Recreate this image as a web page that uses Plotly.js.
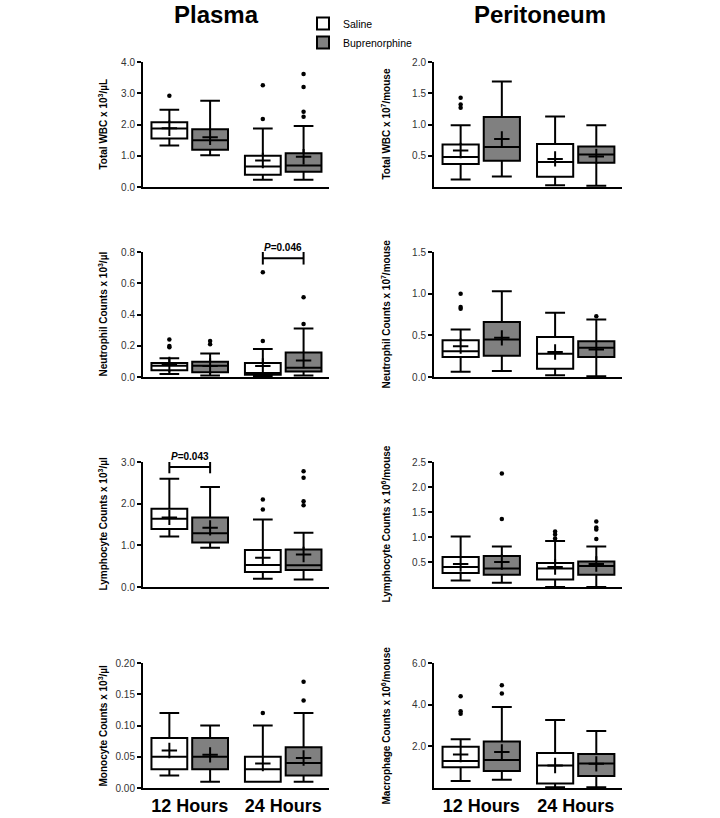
<!DOCTYPE html>
<html>
<head>
<meta charset="utf-8">
<script src="https://cdn.plot.ly/plotly-3.0.1.min.js"></script>
<style>
  body { margin: 0; background: #fff; }
  #plot { width: 720px; height: 818px; }
</style>
</head>
<body>
<div id="plot"></div>
<script>
// box summaries per time point: [low whisker, Q1, median, Q3, high whisker, mean]
var timeLabels = ['12 Hours', '24 Hours'];
var groupNames = ['Saline', 'Buprenorphine'];

// Total WBC, plasma
var plasmaWbcSaline = [[1.33, 1.55, 1.87, 2.07, 2.47, 1.88], [0.23, 0.39, 0.66, 1.00, 1.87, 0.85]];
var plasmaWbcBup = [[1.02, 1.19, 1.50, 1.85, 2.76, 1.59], [0.23, 0.49, 0.69, 1.08, 1.95, 0.97]];
var plasmaWbcSalineOut = [[2.92], [3.26, 2.18]];
var plasmaWbcBupOut = [[], [3.62, 3.20, 2.41, 2.25]];

// Total WBC, peritoneum
var periWbcSaline = [[0.12, 0.37, 0.48, 0.68, 0.99, 0.585], [0.03, 0.165, 0.40, 0.69, 1.13, 0.45]];
var periWbcBup = [[0.17, 0.42, 0.64, 1.12, 1.69, 0.77], [0.02, 0.39, 0.52, 0.65, 0.99, 0.49]];
var periWbcSalineOut = [[1.43, 1.32, 1.27], []];
var periWbcBupOut = [[], []];

// Neutrophils, plasma
var plasmaNeuSaline = [[0.02, 0.043, 0.072, 0.09, 0.12, 0.08], [0.005, 0.015, 0.025, 0.09, 0.18, 0.07]];
var plasmaNeuBup = [[0.01, 0.03, 0.072, 0.098, 0.15, 0.07], [0.01, 0.036, 0.06, 0.157, 0.31, 0.106]];
var plasmaNeuSalineOut = [[0.24, 0.198, 0.19], [0.67, 0.23]];
var plasmaNeuBupOut = [[0.23, 0.21], [0.51, 0.34]];

// Neutrophils, peritoneum
var periNeuSaline = [[0.064, 0.24, 0.31, 0.44, 0.57, 0.37], [0.02, 0.10, 0.28, 0.48, 0.77, 0.30]];
var periNeuBup = [[0.072, 0.256, 0.45, 0.66, 1.03, 0.47], [0.008, 0.24, 0.35, 0.43, 0.69, 0.33]];
var periNeuSalineOut = [[1.0, 0.84, 0.82], []];
var periNeuBupOut = [[], [0.73]];

// Lymphocytes, plasma
var plasmaLymSaline = [[1.21, 1.39, 1.64, 1.88, 2.60, 1.67], [0.20, 0.36, 0.53, 0.89, 1.62, 0.70]];
var plasmaLymBup = [[0.94, 1.07, 1.29, 1.67, 2.40, 1.42], [0.18, 0.41, 0.52, 0.90, 1.30, 0.78]];
var plasmaLymSalineOut = [[], [2.10, 1.86]];
var plasmaLymBupOut = [[], [2.78, 2.62, 2.06, 1.96]];

// Lymphocytes, peritoneum
var periLymSaline = [[0.13, 0.28, 0.40, 0.60, 1.01, 0.46], [0.0, 0.15, 0.37, 0.48, 0.92, 0.40]];
var periLymBup = [[0.086, 0.245, 0.37, 0.62, 0.81, 0.50], [0.0, 0.245, 0.42, 0.51, 0.81, 0.46]];
var periLymSalineOut = [[], [1.11, 1.05, 0.97]];
var periLymBupOut = [[2.27, 1.36], [1.31, 1.19, 1.15, 0.96]];

// Monocytes, plasma
var plasmaMonSaline = [[0.02, 0.03, 0.05, 0.08, 0.12, 0.06], [0.01, 0.01, 0.03, 0.05, 0.10, 0.039]];
var plasmaMonBup = [[0.01, 0.03, 0.05, 0.08, 0.10, 0.053], [0.01, 0.02, 0.04, 0.065, 0.12, 0.048]];
var plasmaMonSalineOut = [[], [0.12]];
var plasmaMonBupOut = [[], [0.17, 0.14]];

// Macrophages, peritoneum
var periMacSaline = [[0.34, 1.0, 1.29, 1.98, 2.34, 1.61], [0.03, 0.21, 1.08, 1.68, 3.26, 1.08]];
var periMacBup = [[0.39, 0.81, 1.34, 2.23, 3.89, 1.73], [0.03, 0.58, 1.18, 1.63, 2.74, 1.16]];
var periMacSalineOut = [[4.4, 3.68, 3.56], []];
var periMacBupOut = [[4.93, 4.53], []];

// y tick values
var plasmaWbcTicks = [0, 1, 2, 3, 4];
var periWbcTicks = [0.5, 1, 1.5, 2];
var plasmaNeuTicks = [0, 0.2, 0.4, 0.6, 0.8];
var periNeuTicks = [0, 0.5, 1, 1.5];
var plasmaLymTicks = [0, 1, 2, 3];
var periLymTicks = [0.5, 1, 1.5, 2, 2.5];
var plasmaMonTicks = [0, 0.05, 0.1, 0.15, 0.2];
var periMacTicks = [2, 4, 6];

// significance brackets: [time index, bracket height, label]
var neuBracket = [1, 0.76, '<i>P</i>=0.046'];
var lymBracket = [0, 2.88, '<i>P</i>=0.043'];

var panels = [
  {sal: plasmaWbcSaline, bup: plasmaWbcBup, salOut: plasmaWbcSalineOut, bupOut: plasmaWbcBupOut, ticks: plasmaWbcTicks, fmt: '.1f', title: 'Total WBC x 10<sup>3</sup>/µL'},
  {sal: periWbcSaline, bup: periWbcBup, salOut: periWbcSalineOut, bupOut: periWbcBupOut, ticks: periWbcTicks, fmt: '.1f', title: 'Total WBC x 10<sup>7</sup>/mouse'},
  {sal: plasmaNeuSaline, bup: plasmaNeuBup, salOut: plasmaNeuSalineOut, bupOut: plasmaNeuBupOut, ticks: plasmaNeuTicks, fmt: '.1f', title: 'Neutrophil Counts x 10<sup>3</sup>/µl', bracket: neuBracket},
  {sal: periNeuSaline, bup: periNeuBup, salOut: periNeuSalineOut, bupOut: periNeuBupOut, ticks: periNeuTicks, fmt: '.1f', title: 'Neutrophil Counts x 10<sup>7</sup>/mouse'},
  {sal: plasmaLymSaline, bup: plasmaLymBup, salOut: plasmaLymSalineOut, bupOut: plasmaLymBupOut, ticks: plasmaLymTicks, fmt: '.1f', title: 'Lymphocyte Counts x 10<sup>3</sup>/µl', bracket: lymBracket},
  {sal: periLymSaline, bup: periLymBup, salOut: periLymSalineOut, bupOut: periLymBupOut, ticks: periLymTicks, fmt: '.1f', title: 'Lymphocyte Counts x 10<sup>6</sup>/mouse'},
  {sal: plasmaMonSaline, bup: plasmaMonBup, salOut: plasmaMonSalineOut, bupOut: plasmaMonBupOut, ticks: plasmaMonTicks, fmt: '.2f', title: 'Monocyte Counts x 10<sup>3</sup>/µl'},
  {sal: periMacSaline, bup: periMacBup, salOut: periMacSalineOut, bupOut: periMacBupOut, ticks: periMacTicks, fmt: '.1f', title: 'Macrophage Counts x 10<sup>6</sup>/mouse'}
];

var W = 720, H = 818;
var colPx = [[143, 329], [434, 622]];
var rowPx = [[62, 187], [252, 377], [462, 587], [663, 788]];
var titleX = [102, 385];
var OFF = 0.218, BOXW = 0.383;
var FONT = 'Liberation Sans, Arial, sans-serif';
var fills = ['white', 'rgb(128,128,128)'];

function pos(t, s) { return t + (s === 0 ? -OFF : OFF); }

var data = [];
var layout = {
  width: W, height: H,
  margin: {l: 0, r: 0, t: 0, b: 0},
  paper_bgcolor: 'white', plot_bgcolor: 'white',
  font: {family: FONT, color: 'black'},
  showlegend: true,
  legend: {x: 303 / W, y: 1 - 9 / H, xanchor: 'left', yanchor: 'top', font: {size: 10.5, family: FONT}, bgcolor: 'rgba(0,0,0,0)', tracegroupgap: 0},
  annotations: [
    {text: '<b>Plasma</b>', x: 216 / W, y: 1 - 15 / H, xref: 'paper', yref: 'paper', xanchor: 'center', yanchor: 'middle', showarrow: false, font: {size: 24, family: FONT}},
    {text: '<b>Peritoneum</b>', x: 540 / W, y: 1 - 15 / H, xref: 'paper', yref: 'paper', xanchor: 'center', yanchor: 'middle', showarrow: false, font: {size: 24, family: FONT}}
  ]
};

panels.forEach(function (p, i) {
  var n = i + 1, col = i % 2, row = Math.floor(i / 2);
  var xa = 'x' + (n === 1 ? '' : n), ya = 'y' + (n === 1 ? '' : n);
  var top = p.ticks[p.ticks.length - 1];

  [p.sal, p.bup].forEach(function (series, s) {
    var outs = s === 0 ? p.salOut : p.bupOut;
    data.push({
      type: 'box', xaxis: xa, yaxis: ya,
      name: groupNames[s], legendgroup: groupNames[s], showlegend: i === 0,
      x: [pos(0, s), pos(1, s)],
      lowerfence: series.map(function (b) { return b[0]; }),
      q1: series.map(function (b) { return b[1]; }),
      median: series.map(function (b) { return b[2]; }),
      q3: series.map(function (b) { return b[3]; }),
      upperfence: series.map(function (b) { return b[4]; }),
      width: BOXW, whiskerwidth: 0.55, boxpoints: false,
      fillcolor: fills[s], line: {color: 'black', width: 2}
    });
    // means
    data.push({
      type: 'scatter', mode: 'markers', xaxis: xa, yaxis: ya, showlegend: false,
      x: [pos(0, s), pos(1, s)], y: series.map(function (b) { return b[5]; }),
      marker: {symbol: 'cross-thin', size: 11, color: 'black', line: {color: 'black', width: 2}}
    });
    // outliers
    var ox = [], oy = [];
    outs.forEach(function (list, t) {
      list.forEach(function (v) { ox.push(pos(t, s)); oy.push(v); });
    });
    data.push({
      type: 'scatter', mode: 'markers', xaxis: xa, yaxis: ya, showlegend: false,
      x: ox, y: oy, marker: {symbol: 'circle', size: 4.5, color: 'black'}
    });
  });

  if (p.bracket) {
    var t = p.bracket[0], yb = p.bracket[1];
    data.push({
      type: 'scatter', mode: 'lines+markers', xaxis: xa, yaxis: ya, showlegend: false,
      x: [pos(t, 0), pos(t, 1)], y: [yb, yb],
      line: {color: 'black', width: 2},
      marker: {symbol: 'line-ns', size: 9, line: {color: 'black', width: 2}}
    });
    layout.annotations.push({
      text: '<b>' + p.bracket[2] + '</b>', xref: xa, yref: ya,
      x: t, y: yb, yshift: 3, xanchor: 'center', yanchor: 'bottom', showarrow: false,
      font: {size: 10, family: FONT}
    });
  }

  var xd = [colPx[col][0] / W, colPx[col][1] / W];
  var yd = [1 - rowPx[row][1] / H, 1 - rowPx[row][0] / H];

  layout['xaxis' + (n === 1 ? '' : n)] = {
    domain: xd, anchor: ya, range: [-0.5, 1.49],
    showline: true, linecolor: 'black', linewidth: 2,
    showgrid: false, zeroline: false, ticks: '',
    tickvals: [0, 1], ticktext: timeLabels,
    showticklabels: row === 3,
    tickfont: {size: 18, weight: 'bold', color: 'black', family: FONT}
  };
  layout['yaxis' + (n === 1 ? '' : n)] = {
    domain: yd, anchor: xa, range: [0, top],
    showline: true, linecolor: 'black', linewidth: 2,
    showgrid: false, zeroline: false,
    ticks: 'outside', ticklen: 4, tickwidth: 2, tickcolor: 'black',
    tickvals: p.ticks, tickformat: p.fmt,
    tickfont: {size: 10, color: '#333', family: FONT}
  };

  layout.annotations.push({
    text: '<b>' + p.title + '</b>', xref: 'paper', yref: 'paper',
    x: titleX[col] / W, y: (yd[0] + yd[1]) / 2, textangle: -90,
    xanchor: 'center', yanchor: 'middle',
    showarrow: false, font: {size: 10, family: FONT}
  });
});

Plotly.newPlot('plot', data, layout, {staticPlot: true});
</script>
</body>
</html>
